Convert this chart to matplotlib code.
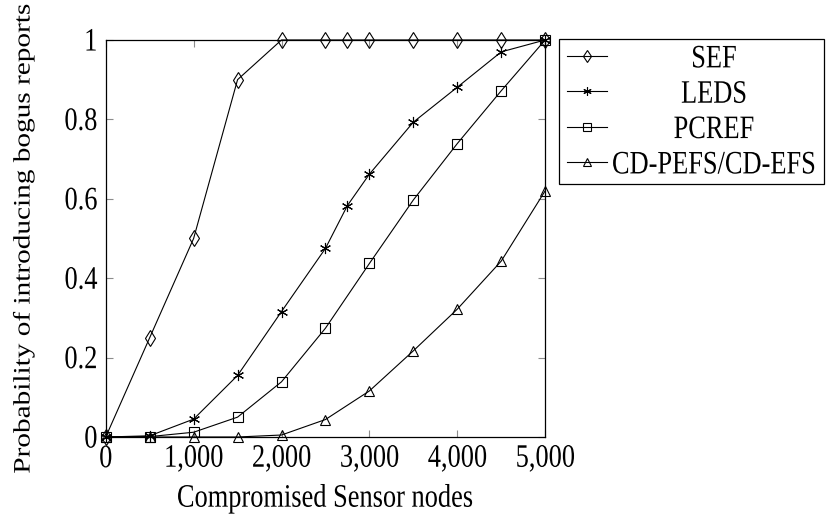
import numpy as np
import matplotlib
matplotlib.use('Agg')
import matplotlib.pyplot as plt
from matplotlib.ticker import FuncFormatter
from matplotlib.patheffects import AbstractPathEffect
from matplotlib.transforms import Affine2D
from matplotlib.text import Text

plt.rcParams['font.family'] = 'Liberation Serif'
plt.rcParams['font.size'] = 19

# --- Data ---
sef_x = [0, 500, 1000, 1500, 2000, 2500, 2750, 3000, 3500, 4000, 4500, 5000]
sef_y = [0, 0.25, 0.5, 0.9, 1, 1, 1, 1, 1, 1, 1, 1]

leds_x = [0, 500, 1000, 1500, 2000, 2500, 2750, 3000, 3500, 4000, 4500, 5000]
leds_y = [0, 0.003, 0.045, 0.155, 0.316, 0.475, 0.583, 0.662, 0.793, 0.881, 0.970, 1]

pcref_x = [0, 500, 1000, 1500, 2000, 2500, 3000, 3500, 4000, 4500, 5000]
pcref_y = [0, 0.001, 0.012, 0.05, 0.139, 0.274, 0.437, 0.597, 0.739, 0.872, 1]

cdpefs_x = [0, 500, 1000, 1500, 2000, 2500, 3000, 3500, 4000, 4500, 5000]
cdpefs_y = [0, 0, 0, 0, 0.005, 0.044, 0.116, 0.217, 0.322, 0.443, 0.62]

labels = ['SEF', 'LEDS', 'PCREF', 'CD-PEFS/CD-EFS']


class Tall(AbstractPathEffect):
    """Stretch text vertically on the page, about its own middle."""

    def __init__(self, sy=1.24):
        super().__init__()
        self.sy = sy

    def draw_path(self, renderer, gc, tpath, affine, rgbFace=None):
        ext = tpath.get_extents(affine)
        cy = (ext.y0 + ext.y1) / 2
        stretch = Affine2D().translate(0, -cy).scale(1, self.sy).translate(0, cy)
        renderer.draw_path(gc, tpath, affine + stretch, rgbFace)


# --- Plot ---
fig = plt.figure(figsize=(8.26, 5.19), dpi=100)
ax = fig.add_axes([0.128, 0.158, 0.532, 0.765])

style = dict(color='black', linewidth=0.8, markerfacecolor='none',
             markeredgecolor='black', markeredgewidth=0.8, clip_on=False)
ax.plot(sef_x, sef_y, marker='d', markersize=8, label=labels[0], **style)
ax.plot(leds_x, leds_y, marker=(6, 2, 0), markersize=8, label=labels[1], **style)
ax.plot(pcref_x, pcref_y, marker='s', markersize=7, label=labels[2], **style)
ax.plot(cdpefs_x, cdpefs_y, marker='^', markersize=7, label=labels[3], **style)

ax.set_xlim(0, 5000)
ax.set_ylim(0, 1)
ax.set_xticks([0, 1000, 2000, 3000, 4000, 5000])
ax.set_yticks([0, 0.2, 0.4, 0.6, 0.8, 1])
ax.xaxis.set_major_formatter(FuncFormatter(lambda v, p: f'{int(v):,}'))
ax.yaxis.set_major_formatter(FuncFormatter(lambda v, p: f'{v:g}'))
ax.tick_params(direction='in', length=5, width=0.8, color='#8c8c8c',
               top=True, right=True)
ax.tick_params(axis='x', pad=8)
ax.tick_params(axis='y', pad=6)
for s in ax.spines.values():
    s.set_color('black')
    s.set_linewidth(0.9)

ax.set_xlabel('Compromised Sensor nodes', labelpad=13)
ax.set_ylabel('Probability of introducing bogus reports', fontsize=17)
ax.yaxis.set_label_coords(-0.162, 0.5)

leg = fig.legend(loc='upper left', bbox_to_anchor=(0.677, 0.925),
                 frameon=True, fancybox=False, edgecolor='black',
                 framealpha=1, borderaxespad=0, handlelength=1.5,
                 handletextpad=0.2, labelspacing=0.45, borderpad=0.3)
leg.get_frame().set_linewidth(0.9)
for h in leg.legend_handles:
    h.set_markersize(h.get_markersize() * 0.75)

# center the labels within the legend column
fig.canvas.draw()
r = fig.canvas.get_renderer()
widths = [t.get_window_extent(r).width for t in leg.get_texts()]
wmax = max(widths)
for t, w in zip(leg.get_texts(), widths):
    t.set_x((wmax - w) / 2)

for t in fig.findobj(Text):
    t.set_path_effects([Tall()])

fig.savefig('out.png', dpi=100)
